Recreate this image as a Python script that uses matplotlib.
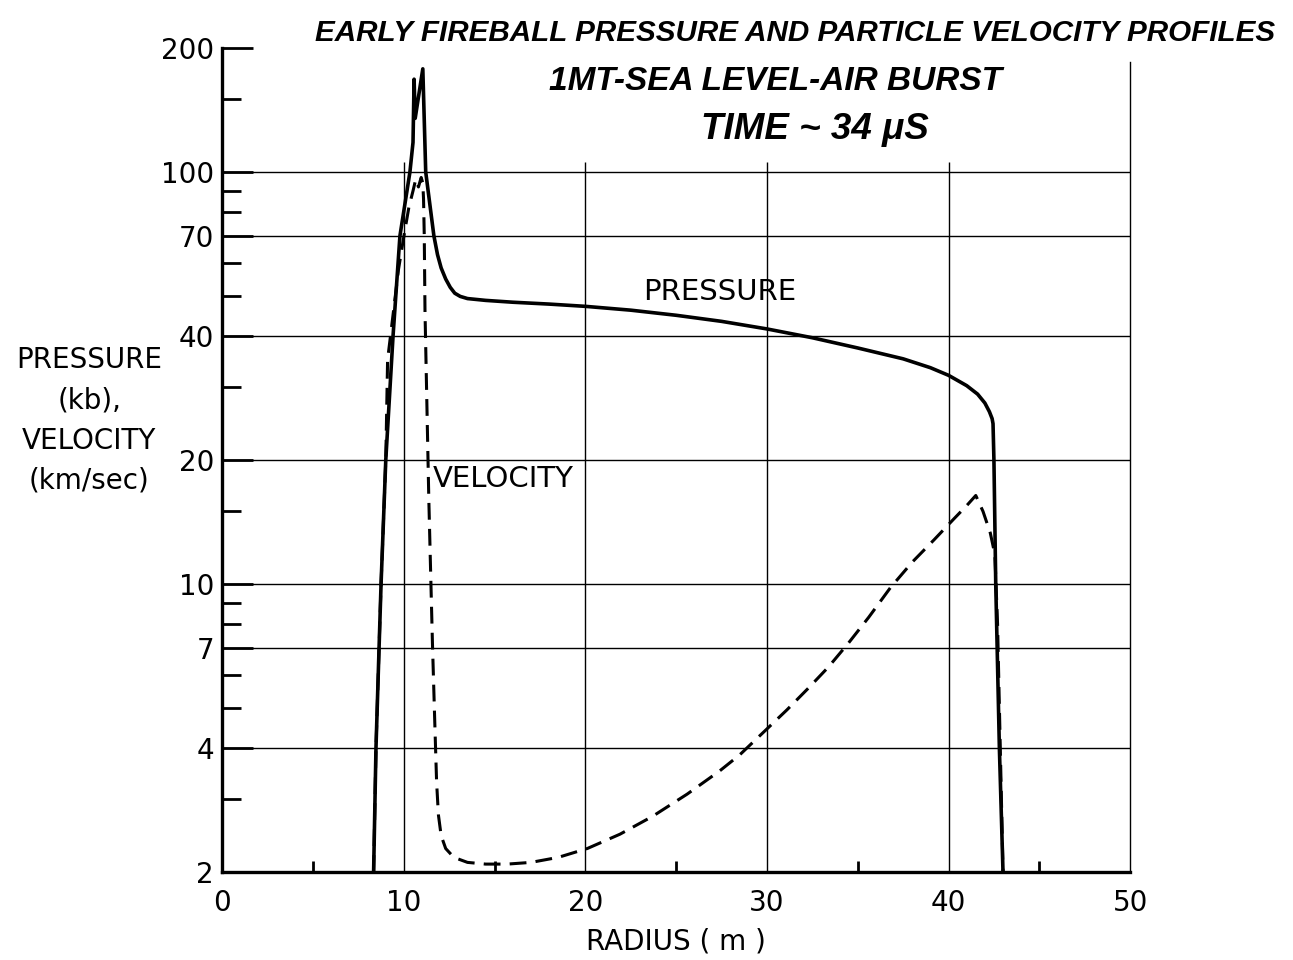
import matplotlib
matplotlib.use("Agg")
import matplotlib.pyplot as plt
from matplotlib.ticker import FixedLocator, NullFormatter

# pressure profile (kb) vs radius (m)
p_r = [8.33, 8.46, 8.63, 8.74, 9.0, 9.4, 9.78, 10.33, 10.5, 10.56, 10.62, 11.04,
       11.2, 11.45, 11.65, 11.85, 12.05, 12.3, 12.55, 12.8, 13.1, 13.5, 14.5,
       16.0, 18.0, 20.0, 22.5, 25.0, 27.5, 30.0, 32.5, 35.0, 37.5, 39.0, 40.0,
       41.0, 41.6, 42.0, 42.25, 42.4, 42.45, 42.5, 42.6, 42.8, 43.0]
p_v = [2, 4, 7, 10, 20, 40, 70, 100, 118, 168, 135, 178,
       100, 82, 70, 63, 58.5, 55, 52.5, 50.8, 49.9, 49.3, 48.8,
       48.3, 47.8, 47.2, 46.2, 44.9, 43.4, 41.6, 39.6, 37.4, 35.2, 33.5, 32.1,
       30.3, 28.9, 27.5, 26.2, 25.2, 24.5, 20, 10, 4, 2]

# particle velocity profile (km/sec) vs radius (m)
v_r = [8.33, 8.46, 8.63, 8.74, 9.0, 9.1, 9.4, 9.7, 10.0, 10.27, 10.5, 10.65, 10.8,
       10.95, 11.04, 11.08, 11.12, 11.16, 11.26, 11.37, 11.48, 11.57, 11.7, 11.8,
       11.9, 12.05, 12.3, 12.75, 13.5, 14.5, 15.7, 17.0, 18.5, 20.1, 21.9, 23.7,
       25.6, 27.4, 28.5, 30.0, 31.1, 32.3, 33.4, 34.5, 35.6, 36.8, 38.0, 39.2,
       40.3, 41.0, 41.5, 41.9, 42.3, 42.55, 42.7, 42.85, 43.0]
v_v = [2, 4, 7, 10, 20, 35, 45, 58, 70, 82, 90, 96, 92,
       97, 94, 86, 70, 46, 27.9, 16.1, 10.3, 7.2, 4.6, 3.3,
       2.75, 2.45, 2.28, 2.17, 2.11, 2.09, 2.09, 2.11, 2.17, 2.28, 2.47, 2.73,
       3.09, 3.52, 3.85, 4.45, 4.95, 5.6, 6.3, 7.2, 8.3, 9.8, 11.3, 12.8,
       14.4, 15.5, 16.4, 15.0, 13.3, 11.8, 8, 4, 2]

y_major = [2, 4, 7, 10, 20, 40, 70, 100, 200]
y_minor = [3, 5, 6, 8, 9, 15, 30, 50, 60, 80, 90, 150]
y_grid = [4, 7, 10, 20, 40, 70, 100]
x_major = [0, 10, 20, 30, 40, 50]
x_minor = [5, 15, 25, 35, 45]
x_grid = [10, 20, 30, 40]

fig = plt.figure(figsize=(12.93, 9.60), dpi=100)
ax = fig.add_axes([0.172, 0.0917, 0.702, 0.8583])
ax.set_yscale('log')
ax.set_xlim(0, 50)
ax.set_ylim(2, 200)

# grid drawn by hand: vertical lines stop near the 100 line
ax.hlines(y_grid, 0, 50, color='black', lw=1.0, zorder=1)
ax.vlines(x_grid, 2, 106, color='black', lw=1.0, zorder=1)

ax.plot(p_r, p_v, color='black', lw=2.6, solid_joinstyle='round', zorder=3)
ax.plot(v_r, v_v, color='black', lw=2.2, dashes=(5.5, 3), zorder=3)

ax.text(27.4, 51, 'PRESSURE', fontsize=21, ha='center', va='center')
ax.text(11.6, 18, 'VELOCITY', fontsize=21, ha='left', va='center')

ax.spines['top'].set_visible(False)
ax.spines['left'].set_linewidth(2.4)
ax.spines['bottom'].set_linewidth(2.4)
ax.spines['right'].set_linewidth(1.0)
ax.spines['right'].set_bounds(2, 185)

ax.yaxis.set_major_locator(FixedLocator(y_major))
ax.yaxis.set_minor_locator(FixedLocator(y_minor))
ax.set_yticklabels([str(v) for v in y_major])
ax.yaxis.set_minor_formatter(NullFormatter())
ax.xaxis.set_major_locator(FixedLocator(x_major))
ax.xaxis.set_minor_locator(FixedLocator(x_minor))
ax.set_xticklabels([str(v) for v in x_major])

ax.tick_params(axis='y', which='major', direction='in', length=22, width=2,
               labelsize=20, pad=6)
ax.tick_params(axis='y', which='minor', direction='in', length=14, width=2)
ax.tick_params(axis='x', which='major', direction='in', length=0, labelsize=20, pad=12)
ax.tick_params(axis='x', which='minor', direction='in', length=8, width=2)

ax.set_xlabel('RADIUS ( m )', fontsize=20, labelpad=8)

fig.text(0.069, 0.562, 'PRESSURE\n(kb),\nVELOCITY\n(km/sec)', fontsize=20,
         ha='center', va='center', linespacing=1.55)

tfont = dict(family=['Liberation Sans', 'DejaVu Sans'], style='italic',
             weight='bold', ha='center', va='center')
fig.text(0.615, 0.966, 'EARLY FIREBALL PRESSURE AND PARTICLE VELOCITY PROFILES',
         fontsize=21.3, **tfont)
fig.text(0.600, 0.915, '1MT-SEA LEVEL-AIR BURST', fontsize=24, **tfont)
fig.text(0.630, 0.865, 'TIME ~ 34 \u03bcS', fontsize=26.5, **tfont)

fig.savefig('out.png', dpi=100)
